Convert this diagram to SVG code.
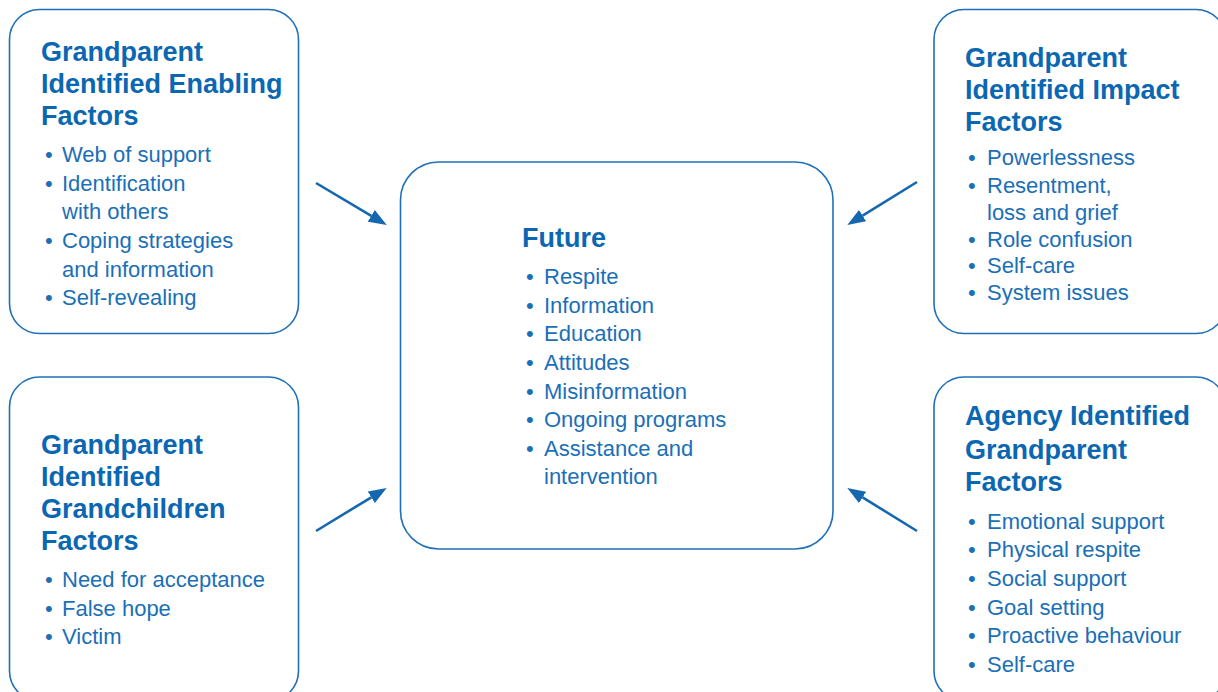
<svg xmlns="http://www.w3.org/2000/svg" width="1218" height="692" viewBox="0 0 1218 692">
<style>
.box{fill:#fff;stroke:#1f70b8;stroke-width:1.6}
.t{font-family:"Liberation Sans",Arial,sans-serif;font-weight:bold;font-size:27px;fill:#0b67b2}
.b{font-family:"Liberation Sans",Arial,sans-serif;font-size:22px;fill:#1b6fb7}
.arr{stroke:#1568b0;stroke-width:2.6;fill:none}
</style>
<defs>
<marker id="ah" markerUnits="userSpaceOnUse" markerWidth="18" markerHeight="14" viewBox="0 0 16 12" refX="0" refY="6" orient="auto">
<path d="M0,0 L16,6 L0,12 z" fill="#1568b0"/>
</marker>
</defs>
<rect width="1218" height="692" fill="#fff"/>

<g id="connectors">
<line class="arr" x1="316" y1="183" x2="371.3" y2="215.8" marker-end="url(#ah)"/>
<line class="arr" x1="917" y1="182" x2="862.6" y2="215.6" marker-end="url(#ah)"/>
<line class="arr" x1="316" y1="531" x2="371.3" y2="497.3" marker-end="url(#ah)"/>
<line class="arr" x1="917" y1="531" x2="862.6" y2="497.4" marker-end="url(#ah)"/>
</g>

<g id="enabling">
<rect class="box" x="9.5" y="9.5" width="289" height="324" rx="30"/>
<text class="t" x="41" y="61">Grandparent</text>
<text class="t" x="41" y="93">Identified Enabling</text>
<text class="t" x="41" y="124.5">Factors</text>
<text class="b" x="45" y="161.5">•</text><text class="b" x="62" y="161.5">Web of support</text>
<text class="b" x="45" y="190.5">•</text><text class="b" x="62" y="190.5">Identification</text>
<text class="b" x="62" y="219">with others</text>
<text class="b" x="45" y="248">•</text><text class="b" x="62" y="248">Coping strategies</text>
<text class="b" x="62" y="276.5">and information</text>
<text class="b" x="45" y="305">•</text><text class="b" x="62" y="305">Self-revealing</text>
</g>

<g id="grandchildren">
<rect class="box" x="9.5" y="377" width="289" height="324" rx="30"/>
<text class="t" x="41" y="454">Grandparent</text>
<text class="t" x="41" y="486">Identified</text>
<text class="t" x="41" y="518">Grandchildren</text>
<text class="t" x="41" y="550">Factors</text>
<text class="b" x="45" y="587">•</text><text class="b" x="62" y="587">Need for acceptance</text>
<text class="b" x="45" y="615.5">•</text><text class="b" x="62" y="615.5">False hope</text>
<text class="b" x="45" y="644">•</text><text class="b" x="62" y="644">Victim</text>
</g>

<g id="future">
<rect class="box" x="400.5" y="162" width="432.5" height="387" rx="38"/>
<text class="t" x="522" y="247">Future</text>
<text class="b" x="526" y="284">•</text><text class="b" x="544" y="284">Respite</text>
<text class="b" x="526" y="312.5">•</text><text class="b" x="544" y="312.5">Information</text>
<text class="b" x="526" y="341">•</text><text class="b" x="544" y="341">Education</text>
<text class="b" x="526" y="369.5">•</text><text class="b" x="544" y="369.5">Attitudes</text>
<text class="b" x="526" y="398.5">•</text><text class="b" x="544" y="398.5">Misinformation</text>
<text class="b" x="526" y="427">•</text><text class="b" x="544" y="427">Ongoing programs</text>
<text class="b" x="526" y="455.5">•</text><text class="b" x="544" y="455.5">Assistance and</text>
<text class="b" x="544" y="484">intervention</text>
</g>

<g id="impact">
<rect class="box" x="934" y="9.5" width="292" height="324" rx="30"/>
<text class="t" x="965" y="67">Grandparent</text>
<text class="t" x="965" y="99">Identified Impact</text>
<text class="t" x="965" y="131">Factors</text>
<text class="b" x="968" y="165">•</text><text class="b" x="987" y="165">Powerlessness</text>
<text class="b" x="968" y="192.5">•</text><text class="b" x="987" y="192.5">Resentment,</text>
<text class="b" x="987" y="219.5">loss and grief</text>
<text class="b" x="968" y="246.5">•</text><text class="b" x="987" y="246.5">Role confusion</text>
<text class="b" x="968" y="273">•</text><text class="b" x="987" y="273">Self-care</text>
<text class="b" x="968" y="299.5">•</text><text class="b" x="987" y="299.5">System issues</text>
</g>

<g id="agency">
<rect class="box" x="934" y="377" width="292" height="324" rx="30"/>
<text class="t" x="965" y="425">Agency Identified</text>
<text class="t" x="965" y="458.5">Grandparent</text>
<text class="t" x="965" y="491">Factors</text>
<text class="b" x="968" y="528.5">•</text><text class="b" x="987" y="528.5">Emotional support</text>
<text class="b" x="968" y="557">•</text><text class="b" x="987" y="557">Physical respite</text>
<text class="b" x="968" y="586">•</text><text class="b" x="987" y="586">Social support</text>
<text class="b" x="968" y="614.5">•</text><text class="b" x="987" y="614.5">Goal setting</text>
<text class="b" x="968" y="643">•</text><text class="b" x="987" y="643">Proactive behaviour</text>
<text class="b" x="968" y="672">•</text><text class="b" x="987" y="672">Self-care</text>
</g>
</svg>
